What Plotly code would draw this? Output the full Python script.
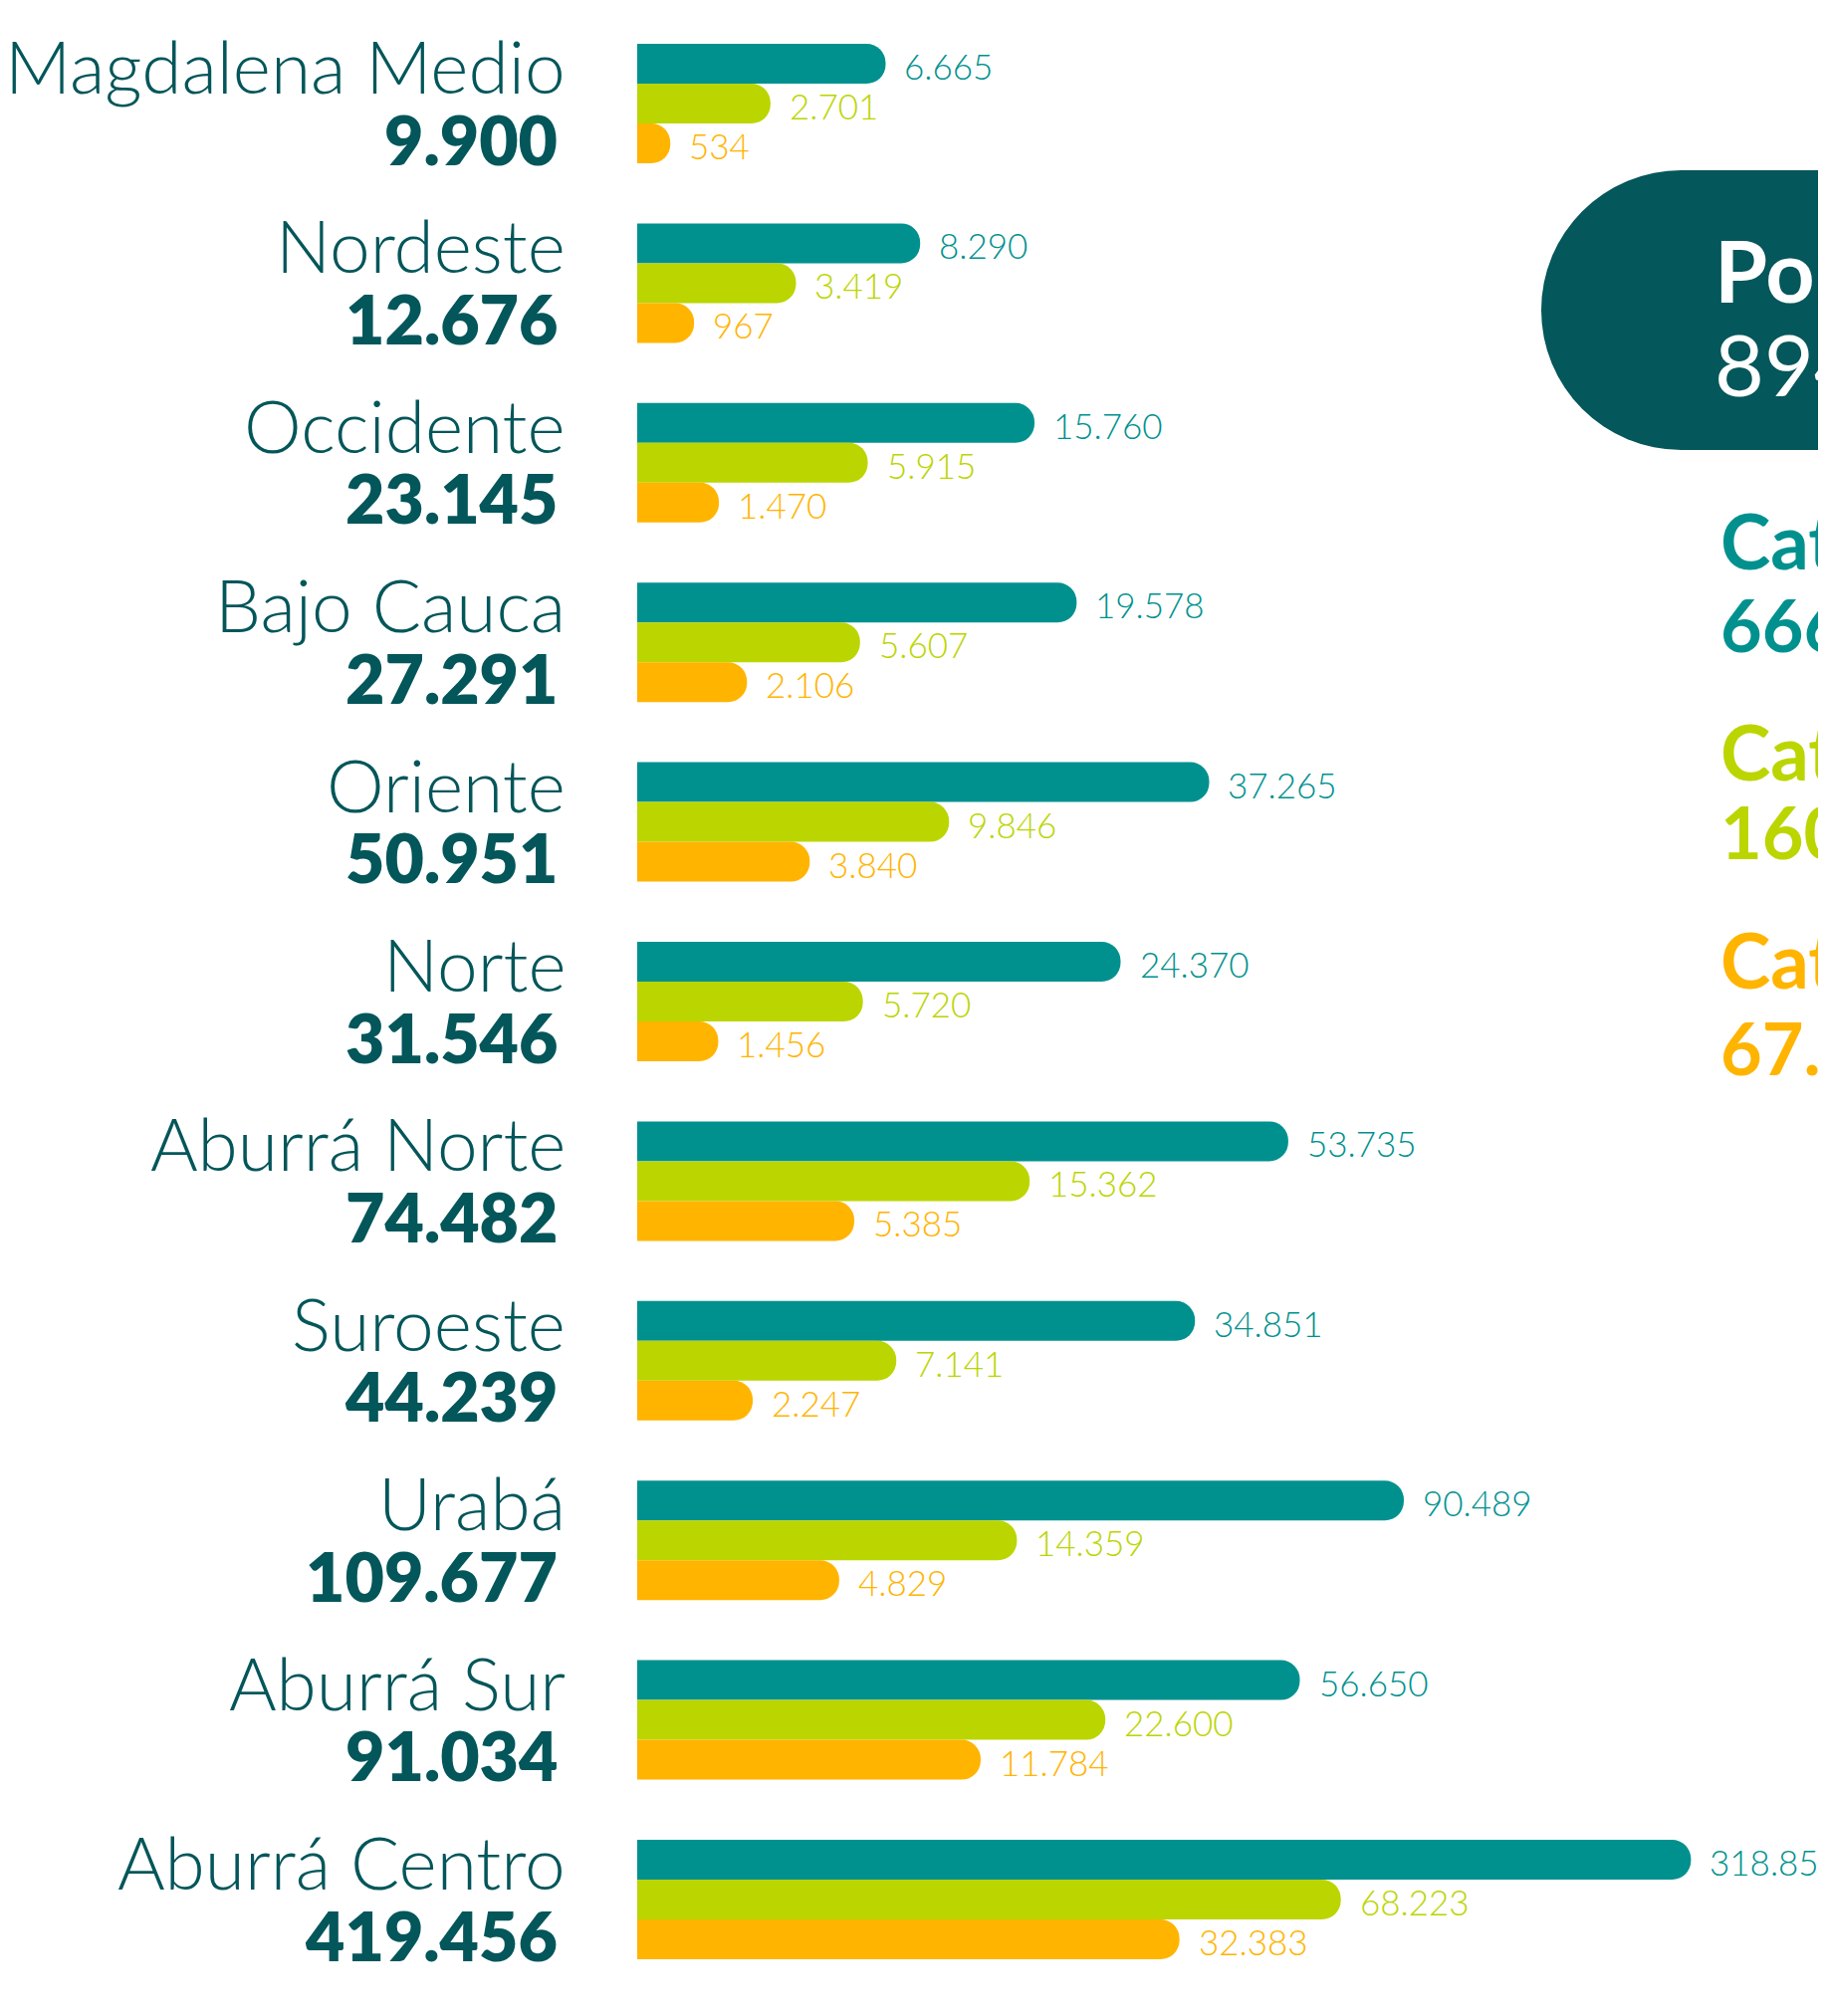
import math

import plotly.graph_objects as go

# data (values read from the infographic, top to bottom)
regions = [
    "Magdalena Medio", "Nordeste", "Occidente", "Bajo Cauca", "Oriente", "Norte",
    "Aburrá Norte", "Suroeste", "Urabá", "Aburrá Sur", "Aburrá Centro",
]
totals = [9900, 12676, 23145, 27291, 50951, 31546, 74482, 44239, 109677, 91034, 419456]
cat_a = [6665, 8290, 15760, 19578, 37265, 24370, 53735, 34851, 90489, 56650, 318850]
cat_b = [2701, 3419, 5915, 5607, 9846, 5720, 15362, 7141, 14359, 22600, 68223]
cat_c = [534, 967, 1470, 2106, 3840, 1456, 5385, 2247, 4829, 11784, 32383]
series_names = ["Categoría A", "Categoría B", "Categoría C"]
panel_title = "Población"

PAGE_OFF = 8  # body margin of the html page
W, H = 1834 - PAGE_OFF, 2025 - PAGE_OFF
TEAL = "#00918F"
LIME = "#BBD500"
ORANGE = "#FFB400"
DARK = "#03565A"
FONT = "Lato"

# the original bars use a compressed (log-like) length scale, not a linear one
K = 3500


def scale(v):
    return math.log1p(v / K)


PX_UNIT = 234            # pixels per scale unit
ORIGIN = 640 - PAGE_OFF  # pixel where the bars start


def fmt(v):
    return f"{v:,}".replace(",", ".")


def px(x):
    return (x - PAGE_OFF) / W


def py(y):
    return 1 - (y - PAGE_OFF) / H


series = list(zip(series_names, [cat_a, cat_b, cat_c], [TEAL, LIME, ORANGE]))

fig = go.Figure()
for name, vals, color in series:
    fig.add_trace(
        go.Bar(
            y=regions,
            x=[scale(v) for v in vals],
            orientation="h",
            name=name,
            customdata=vals,
            marker=dict(color=color, cornerradius=20, line=dict(width=0)),
            hovertemplate="%{y}<br>" + name + ": %{customdata:,}<extra></extra>",
        )
    )

annotations = []
for r, t in zip(regions, totals):
    annotations.append(dict(
        x=px(570), xref="paper", y=r, yref="y", xanchor="right", yanchor="middle",
        yshift=38, text=r, showarrow=False,
        font=dict(family=FONT, size=73, weight=300, color=DARK),
    ))
    annotations.append(dict(
        x=px(562), xref="paper", y=r, yref="y", xanchor="right", yanchor="middle",
        yshift=-35, text=fmt(t), showarrow=False,
        font=dict(family=FONT, size=68, weight=800, color=DARK),
    ))

for (name, vals, color), off in zip(series, [40, 0, -40]):
    for r, v in zip(regions, vals):
        annotations.append(dict(
            x=scale(v), xref="x", y=r, yref="y", xanchor="left", yanchor="middle",
            xshift=17, yshift=off - 2, text=fmt(v), showarrow=False,
            font=dict(family=FONT, size=35, weight=300, color=color),
        ))

# right panel: total pill + category totals (cut by the page edge)
annotations.append(dict(
    x=px(1720), y=py(270), xref="paper", yref="paper", xanchor="left", yanchor="middle",
    text=panel_title, showarrow=False, font=dict(family=FONT, size=86, weight=700, color="white"),
))
annotations.append(dict(
    x=px(1720), y=py(365), xref="paper", yref="paper", xanchor="left", yanchor="middle",
    text=fmt(sum(totals)), showarrow=False, font=dict(family=FONT, size=86, weight=400, color="white"),
))
for (name, vals, color), (y1, y2) in zip(series, [(542, 627), (754, 835), (963, 1052)]):
    annotations.append(dict(
        x=px(1726), y=py(y1), xref="paper", yref="paper", xanchor="left", yanchor="middle",
        text=name, showarrow=False, font=dict(family=FONT, size=76, weight=700, color=color),
    ))
    annotations.append(dict(
        x=px(1726), y=py(y2), xref="paper", yref="paper", xanchor="left", yanchor="middle",
        text=fmt(sum(vals)), showarrow=False, font=dict(family=FONT, size=72, weight=700, color=color),
    ))

shapes = [
    dict(type="circle", xref="paper", yref="paper", x0=px(1548), x1=px(1829),
         y0=py(452), y1=py(171), fillcolor="#04575A", line=dict(width=0), layer="below"),
    dict(type="rect", xref="paper", yref="paper", x0=px(1688), x1=px(1950),
         y0=py(452), y1=py(171), fillcolor="#04575A", line=dict(width=0), layer="below"),
]

fig.update_layout(
    width=W,
    height=H,
    margin=dict(l=0, r=0, t=0, b=0),
    paper_bgcolor="white",
    plot_bgcolor="white",
    barmode="group",
    bargap=0.335,
    bargroupgap=0,
    showlegend=False,
    xaxis=dict(range=[-ORIGIN / PX_UNIT, (W - ORIGIN) / PX_UNIT], visible=False, fixedrange=True),
    yaxis=dict(
        categoryorder="array", categoryarray=regions, range=[10.5, -0.5],
        domain=[1 - (1998.2 - PAGE_OFF) / H, 1 - (13.8 - PAGE_OFF) / H],
        visible=False, fixedrange=True,
    ),
    annotations=annotations,
    shapes=shapes,
)

fig.write_html("out.html")
